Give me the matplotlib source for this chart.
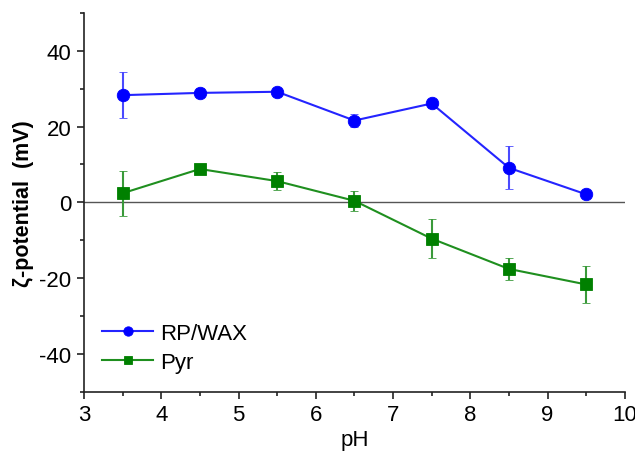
import matplotlib
matplotlib.use("Agg")
import matplotlib.pyplot as plt
from matplotlib.ticker import MultipleLocator

pH = [3.5, 4.5, 5.5, 6.5, 7.5, 8.5, 9.5]
rp_wax = [28.3, 28.9, 29.2, 21.6, 26.1, 9.1, 2.1]
rp_wax_err = [6.1, 1.2, 0.8, 1.8, 1.3, 5.7, 0.5]
pyr = [2.4, 8.8, 5.6, 0.4, -9.6, -17.6, -21.7]
pyr_err = [6.0, 0.9, 2.3, 2.7, 5.1, 2.8, 4.9]

plt.rcParams['font.family'] = ['Liberation Sans', 'DejaVu Sans']
plt.rcParams['axes.unicode_minus'] = False

fig = plt.figure(figsize=(6.35, 4.52), dpi=100)
ax = fig.add_axes([0.1323, 0.1314, 0.8517, 0.8376])

ax.axhline(0, color='#555555', lw=1.0, zorder=1)

ax.errorbar(pH, rp_wax, yerr=rp_wax_err, color='#2424ff', lw=1.5,
            marker='o', ms=9, mfc='#0000ff', mec='#0000ff', mew=0.6,
            ecolor='#4a4aff', elinewidth=1.5, capsize=3, capthick=1.5,
            label='RP/WAX', zorder=3)
ax.errorbar(pH, pyr, yerr=pyr_err, color='#1f8f1f', lw=1.5,
            marker='s', ms=8, mfc='#008000', mec='#008000', mew=0.6,
            ecolor='#3a9a3a', elinewidth=1.5, capsize=3, capthick=1.5,
            label='Pyr', zorder=3)

ax.set_xlim(3, 10)
ax.set_ylim(-50, 50)
ax.xaxis.set_major_locator(MultipleLocator(1))
ax.xaxis.set_minor_locator(MultipleLocator(0.5))
ax.yaxis.set_major_locator(MultipleLocator(20))
ax.yaxis.set_minor_locator(MultipleLocator(10))
ax.set_yticks([-40, -20, 0, 20, 40])

for s in ['top', 'right']:
    ax.spines[s].set_visible(False)
for s in ['left', 'bottom']:
    ax.spines[s].set_linewidth(1.2)
    ax.spines[s].set_color('#222222')

ax.tick_params(which='major', direction='out', length=5, width=1.2,
               labelsize=16, color='#222222', pad=4)
ax.tick_params(which='minor', direction='out', length=3, width=1.2,
               color='#222222')

ax.set_xlabel('pH', fontsize=16, labelpad=3)
ax.set_ylabel('ζ-potential  (mV)', fontsize=15.5, fontweight='bold',
              labelpad=4)

handles, labels = ax.get_legend_handles_labels()
handles = [h[0] for h in handles]
ax.legend(handles, labels, loc='lower left', bbox_to_anchor=(0.005, 0.008),
          frameon=False, fontsize=16, handlelength=2.3, handletextpad=0.3,
          labelspacing=0.35, borderpad=0.2, markerscale=0.75)

fig.savefig('out.png', dpi=100)
